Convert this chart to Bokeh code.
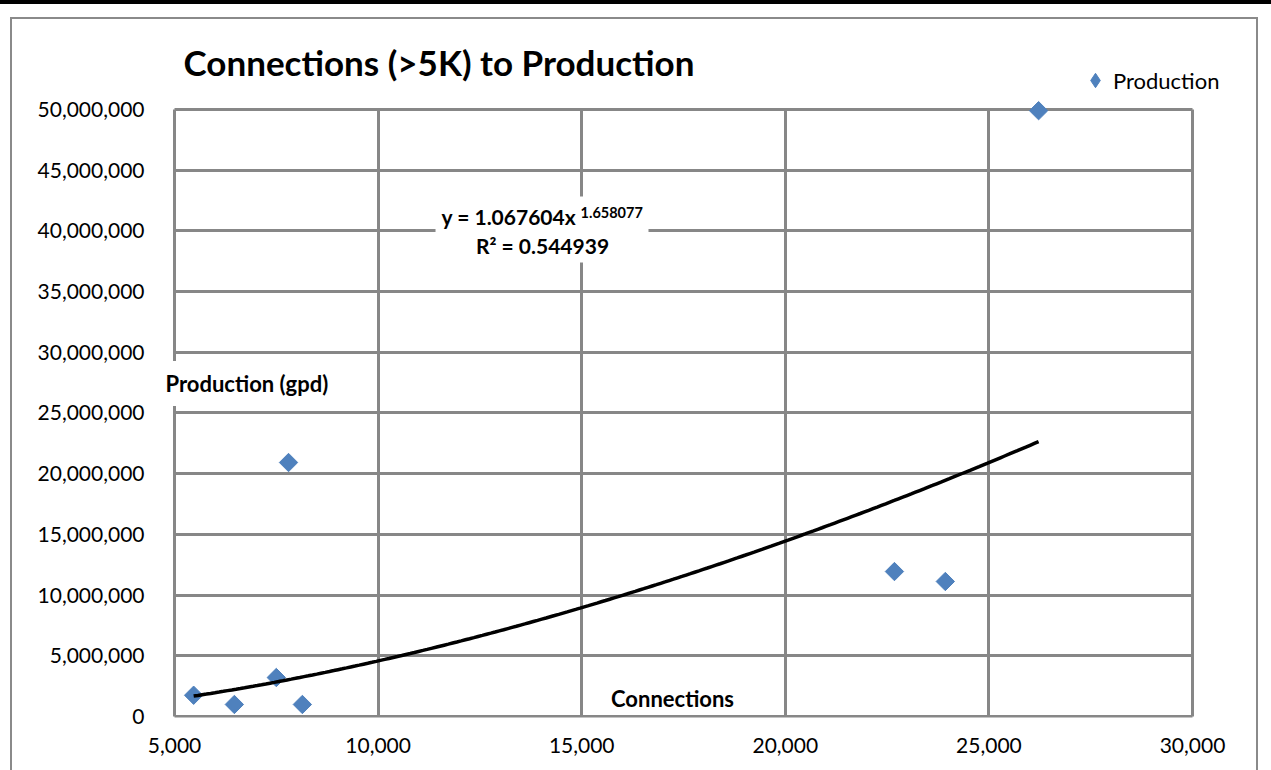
from bokeh.plotting import figure
from bokeh.layouts import column
from bokeh.models import (Range1d, NumeralTickFormatter, FixedTicker, Div, Grid,
                          Label, BoxAnnotation, Legend, LegendItem, ColumnDataSource)
from bokeh.embed import file_html
from bokeh.resources import INLINE
import numpy as np

# Service connections and water production (gallons per day)
connections = [5470, 6470, 7500, 8140, 7800, 22680, 23930, 26220]
production = [1_750_000, 990_000, 3_210_000, 990_000, 20_920_000, 11_940_000, 11_120_000, 49_900_000]

# Power trendline reported for the series: y = a * x^b
trend_a = 1.067604
trend_b = 1.658077
trend_r2 = 0.544939

x_ticks = [5000, 10000, 15000, 20000, 25000, 30000]
y_ticks = [0, 5_000_000, 10_000_000, 15_000_000, 20_000_000, 25_000_000,
           30_000_000, 35_000_000, 40_000_000, 45_000_000, 50_000_000]

FONT = "Lato"
GRID = "#878787"
BLUE = "#4F81BD"

# The frame covers the whole chart body (title and legend sit inside it);
# the plot area proper is the tick-bounded grid box.
p = figure(width=1244, height=751, output_backend="svg", toolbar_location=None,
           title_location=None,
           x_range=Range1d(4705, 31424), y_range=Range1d(-82_366, 57_410_000),
           min_border_left=150, min_border_right=6, min_border_top=0, min_border_bottom=53,
           styles={"margin-left": "12px", "margin-top": "15px",
                   "outline": "2px solid #8A8A8A"})

p.background_fill_color = "white"
p.border_fill_color = "white"
p.outline_line_color = None

# Axes
for ax in (p.xaxis[0], p.yaxis[0]):
    ax.axis_line_color = None
    ax.major_tick_line_color = None
    ax.minor_tick_line_color = None
    ax.major_label_text_font = FONT
    ax.major_label_text_font_size = "21px"
    ax.major_label_text_color = "black"
    ax.formatter = NumeralTickFormatter(format="0,0")
p.xaxis.ticker = FixedTicker(ticks=x_ticks)
p.yaxis.ticker = FixedTicker(ticks=y_ticks)
p.xaxis.major_label_standoff = 14
p.yaxis.major_label_standoff = 12

# Grid, bounded to the plot area
if "cross_bounds" in Grid.properties():
    for g in (p.xgrid[0], p.ygrid[0]):
        g.grid_line_color = GRID
        g.grid_line_width = 3
    p.xgrid[0].cross_bounds = (y_ticks[0], y_ticks[-1])
    p.ygrid[0].cross_bounds = (x_ticks[0], x_ticks[-1])
else:
    p.xgrid.visible = False
    p.ygrid.visible = False
    p.segment(x0=x_ticks, x1=x_ticks, y0=[y_ticks[0]] * len(x_ticks), y1=[y_ticks[-1]] * len(x_ticks),
              line_color=GRID, line_width=3)
    p.segment(x0=[x_ticks[0]] * len(y_ticks), x1=[x_ticks[-1]] * len(y_ticks), y0=y_ticks, y1=y_ticks,
              line_color=GRID, line_width=3)

src = ColumnDataSource(dict(x=connections, y=production))

# Diamond-marker copy of the series, hidden beneath the main markers; it supplies
# the legend swatch (legend swatches ignore marker rotation)
swatch = p.scatter("x", "y", source=src, marker="diamond", size=12,
                   fill_color=BLUE, line_color=BLUE)

# Data points (squares turned 45 degrees)
pts = p.scatter("x", "y", source=src, marker="square", size=13, angle=np.pi / 4,
                fill_color=BLUE, line_color=BLUE, line_width=1)

# Power trendline over the data span
tx = np.linspace(min(connections), max(connections), 200)
ty = trend_a * tx ** trend_b
p.line(tx, ty, line_color="black", line_width=3.5)

# Chart title
p.add_layout(Label(x=5221, y=53_870_000, text="Connections (>5K) to Production",
                   text_font=FONT, text_font_style="bold", text_font_size="35px",
                   text_align="left", text_baseline="alphabetic", text_color="black"))

# Trendline equation box
p.add_layout(BoxAnnotation(left=11410, right=16640, bottom=37_400_000, top=42_830_000,
                           fill_color="white", fill_alpha=1, line_color=None))
p.add_layout(Label(x=11557, y=41_190_000, text=f"y = {trend_a:.6f}x",
                   text_font=FONT, text_font_style="bold", text_font_size="21px",
                   text_align="left", text_baseline="middle", text_color="black"))
p.add_layout(Label(x=14971, y=41_510_000, text=f"{trend_b:.6f}",
                   text_font=FONT, text_font_style="bold", text_font_size="14.5px",
                   text_align="left", text_baseline="middle", text_color="black"))
p.add_layout(Label(x=14037, y=38_830_000, text=f"R² = {trend_r2:.6f}",
                   text_font=FONT, text_font_style="bold", text_font_size="21px",
                   text_align="center", text_baseline="middle", text_color="black"))

# Axis titles placed inside the plot area
p.add_layout(Label(x=5000, y=27_430_000, x_offset=-18, text="Production (gpd)",
                   text_font=FONT, text_font_style="bold", text_font_size="22px",
                   text_align="left", text_baseline="middle", text_color="black",
                   background_fill_color="white", padding=9))
p.add_layout(Label(x=17230, y=1_480_000, text="Connections",
                   text_font=FONT, text_font_style="bold", text_font_size="22px",
                   text_align="center", text_baseline="middle", text_color="black"))

# Legend at the top right
legend = Legend(items=[LegendItem(label="Production", renderers=[swatch])],
                location=(915, 619), padding=0, margin=0, glyph_width=36, glyph_height=36,
                label_standoff=0, border_line_color=None, background_fill_alpha=0,
                label_text_font=FONT, label_text_font_size="22px", label_text_color="black")
p.add_layout(legend)

# Black rule across the top of the page
bar = Div(text="", width=1271, height=4, margin=0, styles={"background-color": "black"})

layout = column(bar, p, spacing=0)
open("out.html", "w").write(file_html(layout, INLINE))
